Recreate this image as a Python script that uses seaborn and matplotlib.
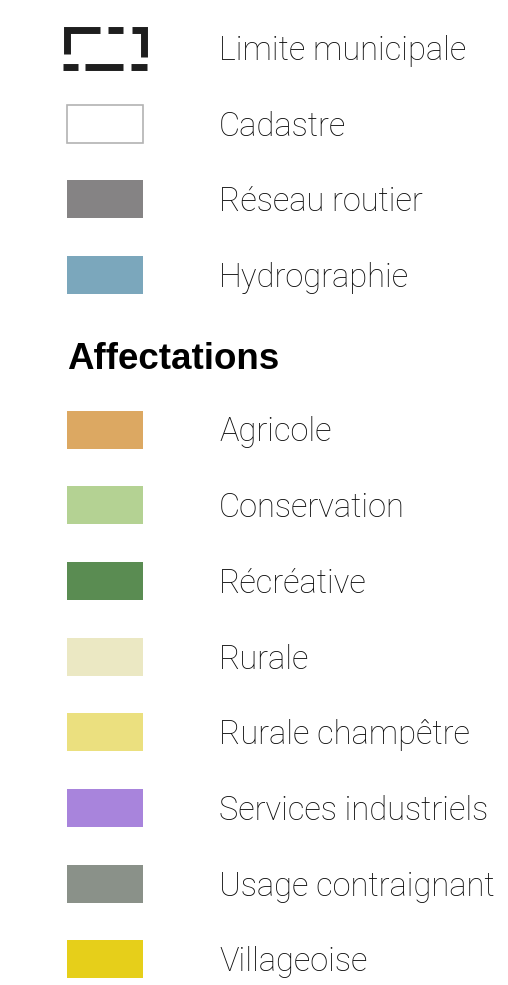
import matplotlib
matplotlib.use("Agg")
from matplotlib import pyplot as plt
import seaborn as sns

## legend content
top_labels = ["Limite municipale", "Cadastre", "Réseau routier", "Hydrographie"]
heading = "Affectations"
aff_labels = ["Agricole", "Conservation", "Récréative", "Rurale", "Rurale champêtre",
              "Services industriels", "Usage contraignant", "Villageoise"]
aff_colors = ["#dca862", "#b4d293", "#5a8c52", "#ebe8c3", "#ebe07f",
              "#a884dc", "#8a9189", "#e6cf1a"]
road_color = "#858384"
hydro_color = "#7ba7bc"

sns.set_theme(style="white")
plt.rcParams['font.family'] = ['Roboto', 'DejaVu Sans']

W, H = 508, 985
fig = plt.figure(figsize=(W / 100, H / 100), dpi=100)
ax = fig.add_axes([0, 0, 1, 1])
ax.set_xlim(0, W)
ax.set_ylim(H, 0)
ax.axis("off")

step = 75.7
top_rows = [48 + i * step for i in range(4)]
aff_rows = [429.5 + i * step for i in range(len(aff_labels))]
sx, sw, sh = 67, 76, 38
tx = 219
fs = 23.5
cap = 12  # half cap height in px

# swatches
ax.barh(top_rows[2:], sw, left=sx, height=sh, color=[road_color, hydro_color], linewidth=0)
ax.barh(aff_rows, sw, left=sx, height=sh, color=aff_colors, linewidth=0)
# cadastre (outline only)
ax.barh([top_rows[1]], sw, left=sx, height=sh, facecolor="white",
        edgecolor="#b3b3b3", linewidth=1.2)

# dashed municipal boundary
lw = 5.0
y0, y1 = 29.5, 66.5
x0, x1 = 66.5, 143.5
segs = [([x0, x0, 100], [54, y0, y0]),
        ([108, 123], [y0, y0]),
        ([132, x1, x1], [y0, y0, 57]),
        ([63, 78], [y1, y1]),
        ([85, 123], [y1, y1]),
        ([131, 147], [y1, y1])]
for xs, ys in segs:
    ax.plot(xs, ys, color="#1e1e1e", lw=lw, solid_capstyle="butt", solid_joinstyle="miter")

# labels
for lab, y in zip(top_labels, top_rows):
    ax.text(tx, y + cap, lab, fontsize=fs, fontweight="light", color="#0d0d0d", va="baseline")
for lab, y in zip(aff_labels, aff_rows):
    ax.text(tx, y + cap, lab, fontsize=fs, fontweight="light", color="#0d0d0d", va="baseline")

ax.text(67, 369, heading, fontsize=26.5, fontweight="bold", color="black", va="baseline",
        family=["Liberation Sans", "DejaVu Sans"])

fig.savefig("out.png", dpi=100, facecolor="white")
